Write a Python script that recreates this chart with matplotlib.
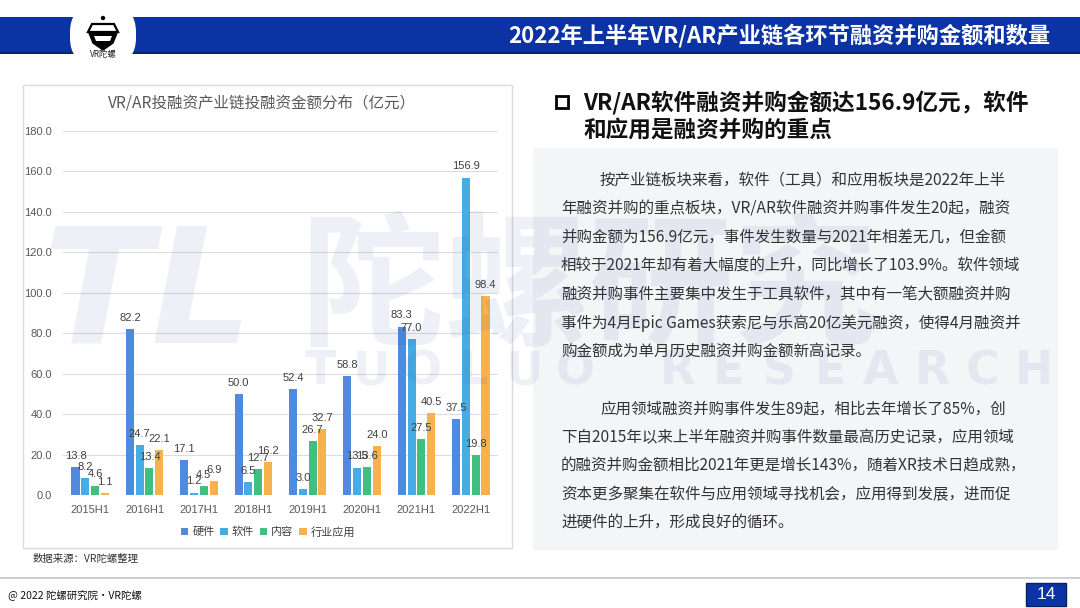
import matplotlib

matplotlib.use("Agg")
import matplotlib.pyplot as plt
from matplotlib.patches import Rectangle, FancyBboxPatch, Patch, Circle, Polygon

plt.rcParams["font.family"] = ["Noto Sans CJK SC", "DejaVu Sans"]

# data
periods = ["2015H1", "2016H1", "2017H1", "2018H1", "2019H1", "2020H1", "2021H1", "2022H1"]
series_names = ["硬件", "软件", "内容", "行业应用"]
hardware = [13.8, 82.2, 17.1, 50.0, 52.4, 58.8, 83.3, 37.5]
software = [8.2, 24.7, 1.2, 6.5, 3.0, 13.5, 77.0, 156.9]
content = [4.6, 13.4, 4.5, 12.7, 26.7, 13.6, 27.5, 19.8]
industry = [1.1, 22.1, 6.9, 16.2, 32.7, 24.0, 40.5, 98.4]
y_ticks = [0, 20, 40, 60, 80, 100, 120, 140, 160, 180]

chart_title = "VR/AR投融资产业链投融资金额分布（亿元）"
page_title = "2022年上半年VR/AR产业链各环节融资并购金额和数量"
head_lines = ["VR/AR软件融资并购金额达156.9亿元，软件", "和应用是融资并购的重点"]
para1 = [
    "按产业链板块来看，软件（工具）和应用板块是2022年上半",
    "年融资并购的重点板块，VR/AR软件融资并购事件发生20起，融资",
    "并购金额为156.9亿元，事件发生数量与2021年相差无几，但金额",
    "相较于2021年却有着大幅度的上升，同比增长了103.9%。软件领域",
    "融资并购事件主要集中发生于工具软件，其中有一笔大额融资并购",
    "事件为4月Epic Games获索尼与乐高20亿美元融资，使得4月融资并",
    "购金额成为单月历史融资并购金额新高记录。",
]
para2 = [
    "应用领域融资并购事件发生89起，相比去年增长了85%，创",
    "下自2015年以来上半年融资并购事件数量最高历史记录，应用领域",
    "的融资并购金额相比2021年更是增长143%，随着XR技术日趋成熟，",
    "资本更多聚集在软件与应用领域寻找机会，应用得到发展，进而促",
    "进硬件的上升，形成良好的循环。",
]

COLORS = ["#5089E0", "#47ACE3", "#3FBF80", "#F7B24E"]
BLUE = "#0B33A3"
W, H = 1080, 608

fig = plt.figure(figsize=(W / 100, H / 100), dpi=100)

# page background in pixel coordinates
bg = fig.add_axes([0, 0, 1, 1])
bg.set_xlim(0, W)
bg.set_ylim(H, 0)
bg.axis("off")

bg.add_patch(Rectangle((0, 17), W, 36, color=BLUE, lw=0))
bg.add_patch(Rectangle((0, 52), W, 1.5, color="#0A2470", lw=0))
bg.add_patch(FancyBboxPatch((70, 6), 66, 58, boxstyle="round,pad=0,rounding_size=26",
                            fc="white", ec="none"))
# crude logo
bg.add_patch(Polygon([[92, 24], [114, 24], [118, 32], [88, 32]], closed=True,
                     fc="white", ec="black", lw=1.6))
bg.add_patch(Polygon([[89, 33], [117, 33], [113, 43], [103, 50], [93, 43]], closed=True,
                     fc="black", ec="black", lw=1))
bg.add_patch(Polygon([[94, 36], [112, 36], [110, 41], [96, 41]], closed=True,
                     fc="white", ec="none"))
bg.add_patch(Circle((103, 18), 2.2, fc="black", ec="none"))
bg.text(103, 55, "VR陀螺", ha="center", va="center", fontsize=6, color="#222")
bg.text(1050, 36, page_title, ha="right", va="center", fontsize=16,
        fontweight="bold", color="white")

# chart frame
bg.add_patch(Rectangle((23, 85), 489, 463, fc="white", ec="#DADADA", lw=1))
bg.text(262, 103, chart_title, ha="center", va="center", fontsize=11.2, color="#595959")
bg.text(33, 559, "数据来源：VR陀螺整理", ha="left", va="center", fontsize=7.5, color="#333333")

# right text block
bg.add_patch(Rectangle((533, 148), 525, 402, fc="#F4F5F7", ec="none"))
bg.add_patch(Rectangle((556, 96), 12, 12, fc="none", ec="black", lw=2))
bg.text(583, 103, head_lines[0], ha="left", va="center", fontsize=16.3,
        fontweight="bold", color="#111111")
bg.text(583, 130, head_lines[1], ha="left", va="center", fontsize=16.3,
        fontweight="bold", color="#111111")
for k, line in enumerate(para1):
    x = 600 if k == 0 else 561
    bg.text(x, 180 + 28.6 * k, line, ha="left", va="center", fontsize=11.2, color="#333333")
for k, line in enumerate(para2):
    x = 600 if k == 0 else 561
    bg.text(x, 180 + 28.6 * (k + 8), line, ha="left", va="center", fontsize=11.2, color="#333333")

# footer
bg.add_patch(Rectangle((0, 577), W, 2, color="#CFCFCF", lw=0))
bg.text(8, 595, "@ 2022 陀螺研究院·VR陀螺", ha="left", va="center", fontsize=7.5, color="#111111")
bg.add_patch(Rectangle((1026, 583), 40, 23, fc=BLUE, ec="#08205F", lw=1))
bg.text(1046, 594.5, "14", ha="center", va="center", fontsize=12.5, color="white",
        family="Liberation Sans")

# bar chart
x0, x1, y0, y1 = 63, 498, 495, 131
ax = fig.add_axes([x0 / W, 1 - y0 / H, (x1 - x0) / W, (y0 - y1) / H])
ax.set_facecolor("none")
ax.set_xlim(-0.5, len(periods) - 0.5)
ax.set_ylim(0, 180)
for s in ax.spines.values():
    s.set_visible(False)
ax.set_yticks(y_ticks)
ax.set_yticklabels([f"{v:.1f}" for v in y_ticks], family="Liberation Sans")
ax.set_xticks(range(len(periods)))
ax.set_xticklabels(periods, family="Liberation Sans")
ax.tick_params(length=0, labelsize=8, colors="#595959")
ax.tick_params(axis="y", pad=8)
ax.tick_params(axis="x", pad=7)
ax.grid(axis="y", color="#DCDCDC", lw=0.8)
ax.set_axisbelow(True)

pitch, bw = 0.18, 0.148
for j, vals in enumerate([hardware, software, content, industry]):
    xs = [i + (j - 1.5) * pitch for i in range(len(periods))]
    ax.bar(xs, vals, width=bw, color=COLORS[j], zorder=2)
    for x, v in zip(xs, vals):
        ax.annotate(f"{v:.1f}", xy=(x, v), xytext=(0, 4.5), textcoords="offset points",
                    ha="center", va="bottom", fontsize=8, color="#404040",
                    family="Liberation Sans", zorder=3)

handles = [Patch(facecolor=c, edgecolor="none", label=n) for c, n in zip(COLORS, series_names)]
fig.legend(handles=handles, loc="center", bbox_to_anchor=(268 / W, 1 - 532 / H), ncol=4,
           frameon=False, fontsize=8, handlelength=0.7, handleheight=0.7,
           handletextpad=0.35, columnspacing=0.5, labelcolor="#404040")

# watermark overlay
wm = fig.add_axes([0, 0, 1, 1])
wm.set_xlim(0, W)
wm.set_ylim(H, 0)
wm.axis("off")
wm.patch.set_alpha(0)
WMC = "#2A4A9A"
wm.text(148, 298, "TL", ha="center", va="center", fontsize=115, fontweight="bold",
        style="italic", color=WMC, alpha=0.08, family="DejaVu Sans")
wm.text(300, 292, "陀螺研究", ha="left", va="center", fontsize=104, fontweight="bold",
        color=WMC, alpha=0.08)
for k, ch in enumerate("TUOLUO RESEARCH"):
    if ch != " ":
        wm.text(320 + k * 51, 372, ch, ha="center", va="center", fontsize=33,
                fontweight="bold", color=WMC, alpha=0.08, family="DejaVu Sans")

fig.savefig("out.png", dpi=100)
